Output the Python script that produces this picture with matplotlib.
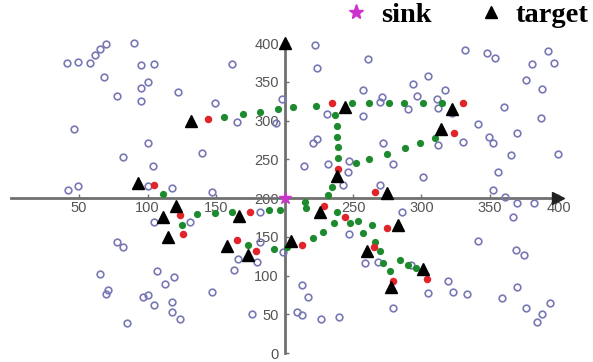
import matplotlib
matplotlib.use('Agg')
import matplotlib.pyplot as plt
from matplotlib.lines import Line2D

# sensor nodes (hollow circles)
node_x = [41, 49, 58, 62, 65, 70, 90, 95, 105, 68, 100, 95, 78, 95, 122, 162, 149, 165, 46, 100,
          82, 140, 104, 198, 194, 147, 118, 42, 49, 100,
          222, 224, 261, 257, 294, 305, 297, 271, 270, 290, 231, 257, 224, 221, 272, 214, 232, 247, 279, 301,
          243, 246, 270, 332, 348, 354, 392, 381, 397, 376, 388, 317, 311, 312, 322, 360, 387, 341, 370, 330,
          349, 352, 312, 365, 400, 356,
          352, 361, 370, 382, 367, 341, 369, 375, 370, 359, 376, 394, 388, 384, 319, 323, 333, 305, 279, 213,
          217, 209, 213, 227, 240, 286, 247, 259, 268, 292,
          105, 131, 78, 82, 65, 107, 119, 113, 71, 70, 97, 100, 105, 118, 118, 124, 85, 147, 163, 176,
          166, 180, 182, 199, 182]
node_y = [374, 375, 374, 385, 392, 399, 400, 372, 373, 356, 350, 342, 332, 325, 337, 373, 323, 298, 289, 271,
          253, 258, 241, 328, 297, 208, 213, 210, 215, 215,
          397, 368, 379, 339, 347, 357, 332, 330, 324, 315, 308, 306, 276, 271, 271, 241, 244, 248, 244, 227,
          217, 234, 217, 391, 387, 381, 390, 373, 374, 352, 341, 339, 328, 316, 310, 317, 303, 295, 284, 272,
          279, 271, 268, 255, 257, 234,
          210, 201, 194, 194, 175, 145, 133, 126, 85, 71, 58, 65, 50, 40, 93, 79, 76, 77, 58, 88,
          72, 53, 49, 44, 46, 182, 154, 116, 117, 114,
          169, 169, 143, 137, 102, 106, 98, 89, 81, 76, 72, 75, 62, 66, 53, 44, 39, 79, 107, 50,
          121, 117, 143, 130, 182]

# nodes on the routing paths
path_x = [156, 170, 182, 195, 206, 223, 249, 262, 276, 287, 301, 315,
          237, 238, 238, 239, 239, 252, 262, 275, 288, 299, 310,
          235, 232, 215, 216, 238, 236, 228, 221,
          248, 254, 264, 257, 266, 270, 272, 277, 284, 290, 296,
          111, 136, 149, 162, 189, 197, 125, 173, 192, 202]
path_y = [305, 308, 311, 315, 317, 319, 323, 323, 323, 323, 323, 323,
          307, 293, 279, 266, 252, 245, 250, 257, 264, 271, 278,
          214, 204, 195, 187, 182, 168, 156, 148,
          168, 170, 165, 155, 143, 132, 116, 106, 120, 114, 110,
          205, 179, 181, 182, 185, 185, 165, 139, 134, 137]

# nodes detecting a target
detect_x = [144, 235, 330, 324, 239, 229, 244, 275, 213, 265, 279, 304, 266, 105, 124, 175, 126, 165, 179]
detect_y = [302, 323, 323, 284, 237, 190, 175, 161, 139, 137, 93, 95, 208, 217, 178, 182, 154, 146, 132]

target_x = [132, 244, 322, 314, 238, 226, 283, 205, 260, 278, 301, 275, 93, 121, 111, 167, 115, 158, 173]
target_y = [300, 317, 315, 289, 228, 182, 165, 144, 132, 85, 108, 206, 220, 190, 175, 177, 150, 138, 126]

sink_x = [200]
sink_y = [200]

x_ticks = [50, 100, 150, 200, 250, 300, 350, 400]
x_labels = ['50', '100', '150', '', '250', '300', '350', '400']
y_ticks = [0, 50, 100, 150, 200, 250, 300, 350, 400]

plt.rcParams['font.family'] = ['Liberation Sans', 'DejaVu Sans']

fig = plt.figure(figsize=(5.93, 3.62), dpi=100)
ax = fig.add_axes([0, 0, 1, 1])
ax.set_xlim(-7.7, 425.2)
ax.set_ylim(-11.6, 455.5)

# axes cross at the centre of the field
for side in ['top', 'right']:
    ax.spines[side].set_visible(False)
for side in ['left', 'bottom']:
    ax.spines[side].set_position(('data', 200))
    ax.spines[side].set_bounds(0, 400)
    ax.spines[side].set_color('#707070')
    ax.spines[side].set_linewidth(2)
ax.set_xticks(x_ticks)
ax.set_xticklabels(x_labels)
ax.set_yticks(y_ticks)
ax.tick_params(direction='in', length=3, width=1, color='#707070', labelcolor='#555555', labelsize=10.5)
ax.tick_params(axis='x', pad=2)
ax.tick_params(axis='y', pad=4)
ax.patch.set_alpha(0)

ax.plot(node_x, node_y, 'o', ms=4.8, mfc='none', mec='#7878b4', mew=1.2, zorder=3)
ax.plot(path_x, path_y, 'o', ms=5.2, color='#1e8a2e', mec='none', zorder=4)
ax.plot(detect_x, detect_y, 'o', ms=5.4, color='#e0242a', mec='none', zorder=4)
ax.plot(target_x, target_y, '^', ms=8, color='black', zorder=5)
ax.plot(sink_x, sink_y, '*', ms=9, color='#cc33cc', zorder=6)

# arrow heads on the axes
ax.plot([400], [200], '>', ms=8, color='#222222', clip_on=False, zorder=6)
ax.plot([200], [400], '^', ms=9, color='black', clip_on=False, zorder=6)

handles = [Line2D([], [], ls='none', marker='*', ms=11, color='#cc33cc'),
           Line2D([], [], ls='none', marker='^', ms=9, color='black')]
ax.legend(handles, ['sink', 'target'], ncol=2, frameon=False, loc='upper right',
          bbox_to_anchor=(1.035, 1.065), handlelength=1.0, handletextpad=0.35, columnspacing=1.6,
          prop={'family': 'Liberation Serif', 'weight': 'bold', 'size': 20.5})

fig.savefig('out.png', dpi=100)
